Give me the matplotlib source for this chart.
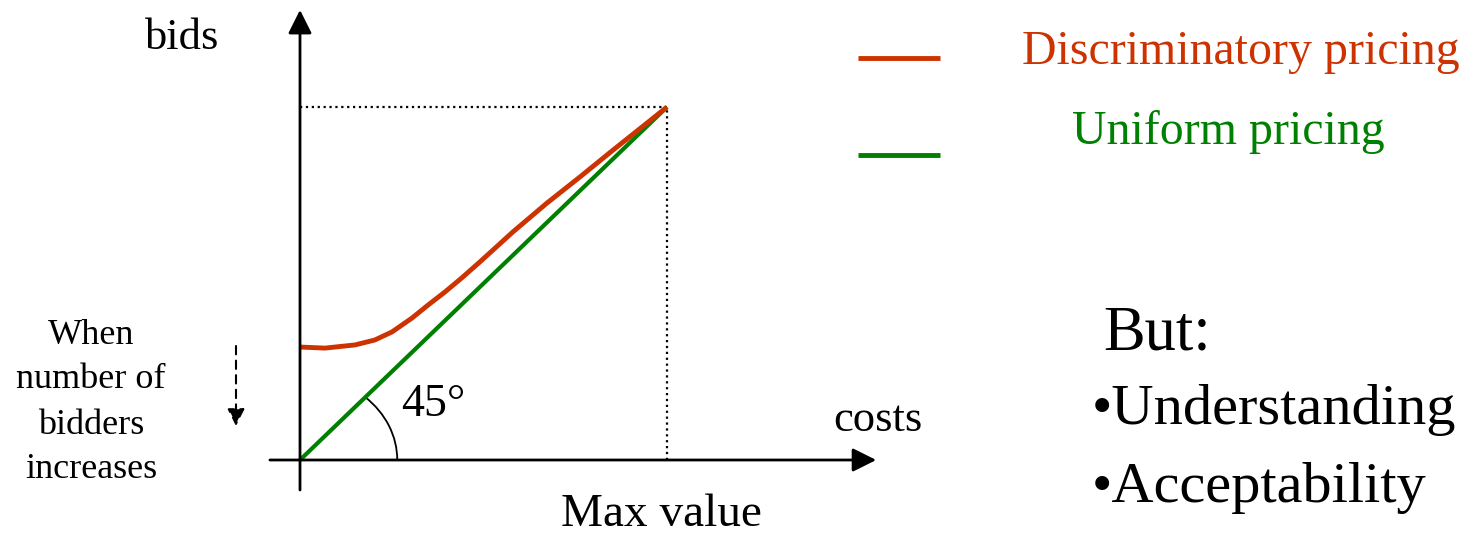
import numpy as np
import matplotlib.pyplot as plt
from matplotlib.patches import Arc

plt.rcParams['font.family'] = ['Liberation Serif', 'DejaVu Serif']

# bids as a function of costs (costs scaled so that max value = 1)
costs_disc = [0.0, 0.068, 0.150, 0.204, 0.251, 0.305, 0.349, 0.395, 0.441,
              0.490, 0.580, 0.673, 0.763, 0.853, 0.946, 1.0]
bids_disc = [0.320, 0.317, 0.326, 0.340, 0.363, 0.402, 0.439, 0.476, 0.516,
             0.561, 0.646, 0.728, 0.802, 0.878, 0.955, 1.0]
costs_unif = [0.0, 1.0]
bids_unif = [0.0, 1.0]
max_value = 1.0

red = '#CC3300'
green = '#008000'

W, H = 1465, 536
fig = plt.figure(figsize=(W / 100, H / 100), dpi=100)

# overlay in pixel coordinates for free text and legend keys
bg = fig.add_axes([0, 0, 1, 1])
bg.set_xlim(0, W)
bg.set_ylim(H, 0)
bg.axis('off')

# chart axes: origin at (300, 460) px, max value at (667, 107) px
x0, y0, x1, y1 = 300, 460, 667, 107
ax = fig.add_axes([x0 / W, (H - y0) / H, (x1 - x0) / W, (y0 - y1) / H])
ax.set_xlim(0, max_value)
ax.set_ylim(0, max_value)
ax.axis('off')

# axes with arrows
arrow = dict(arrowstyle='-|>', color='black', lw=2, mutation_scale=36,
             shrinkA=0, shrinkB=0)
ax.annotate('', xy=(1.57, 0), xytext=(-0.082, 0), arrowprops=arrow,
            annotation_clip=False)
ax.annotate('', xy=(0, 1.275), xytext=(0, -0.085), arrowprops=arrow,
            annotation_clip=False)

# dotted guides to the max value
ax.plot([0, max_value], [max_value, max_value], ':', color='black', lw=1.6,
        clip_on=False)
ax.plot([max_value, max_value], [0, max_value], ':', color='black', lw=1.6,
        clip_on=False)

ax.plot(costs_unif, bids_unif, color=green, lw=3.0, clip_on=False,
        solid_capstyle='butt')
ax.plot(costs_disc, bids_disc, color=red, lw=3.5, clip_on=False,
        solid_capstyle='butt', solid_joinstyle='round')

# 45 degree arc
ax.add_patch(Arc((0, 0), 0.53, 0.48, theta1=0, theta2=45, color='black',
                 lw=1.3, clip_on=False))

# labels
bg.text(182, 38, 'bids', fontsize=32, ha='center', va='center')
bg.text(878, 420, 'costs', fontsize=32, ha='center', va='center')
bg.text(661, 515, 'Max value', fontsize=34, ha='center', va='center')
bg.text(433, 405, '45°', fontsize=33, ha='center', va='center')

when_lines = ['When', 'number of', 'bidders', 'increases']
for i, s in enumerate(when_lines):
    bg.text(91, 335 + i * 45, s, fontsize=26, ha='center', va='center')
bg.annotate('', xy=(236, 426), xytext=(236, 346),
            arrowprops=dict(arrowstyle='-|>', color='black', lw=1.5,
                            linestyle=(0, (4, 3)), mutation_scale=26,
                            shrinkA=0, shrinkB=0))

# legend
bg.plot([858, 940], [58, 58], color=red, lw=3.5, solid_capstyle='butt')
bg.plot([858, 940], [155, 155], color=green, lw=3.5, solid_capstyle='butt')
bg.text(1241, 52, 'Discriminatory pricing', color=red, fontsize=34.5,
        ha='center', va='center')
bg.text(1228, 132, 'Uniform pricing', color=green, fontsize=34.5,
        ha='center', va='center')

# side note
bg.text(1103, 335, 'But:', fontsize=45, ha='left', va='center')
bg.text(1092, 410, '•Understanding', fontsize=42, ha='left', va='center')
bg.text(1092, 488, '•Acceptability', fontsize=42, ha='left', va='center')

fig.savefig('out.png', dpi=100)
